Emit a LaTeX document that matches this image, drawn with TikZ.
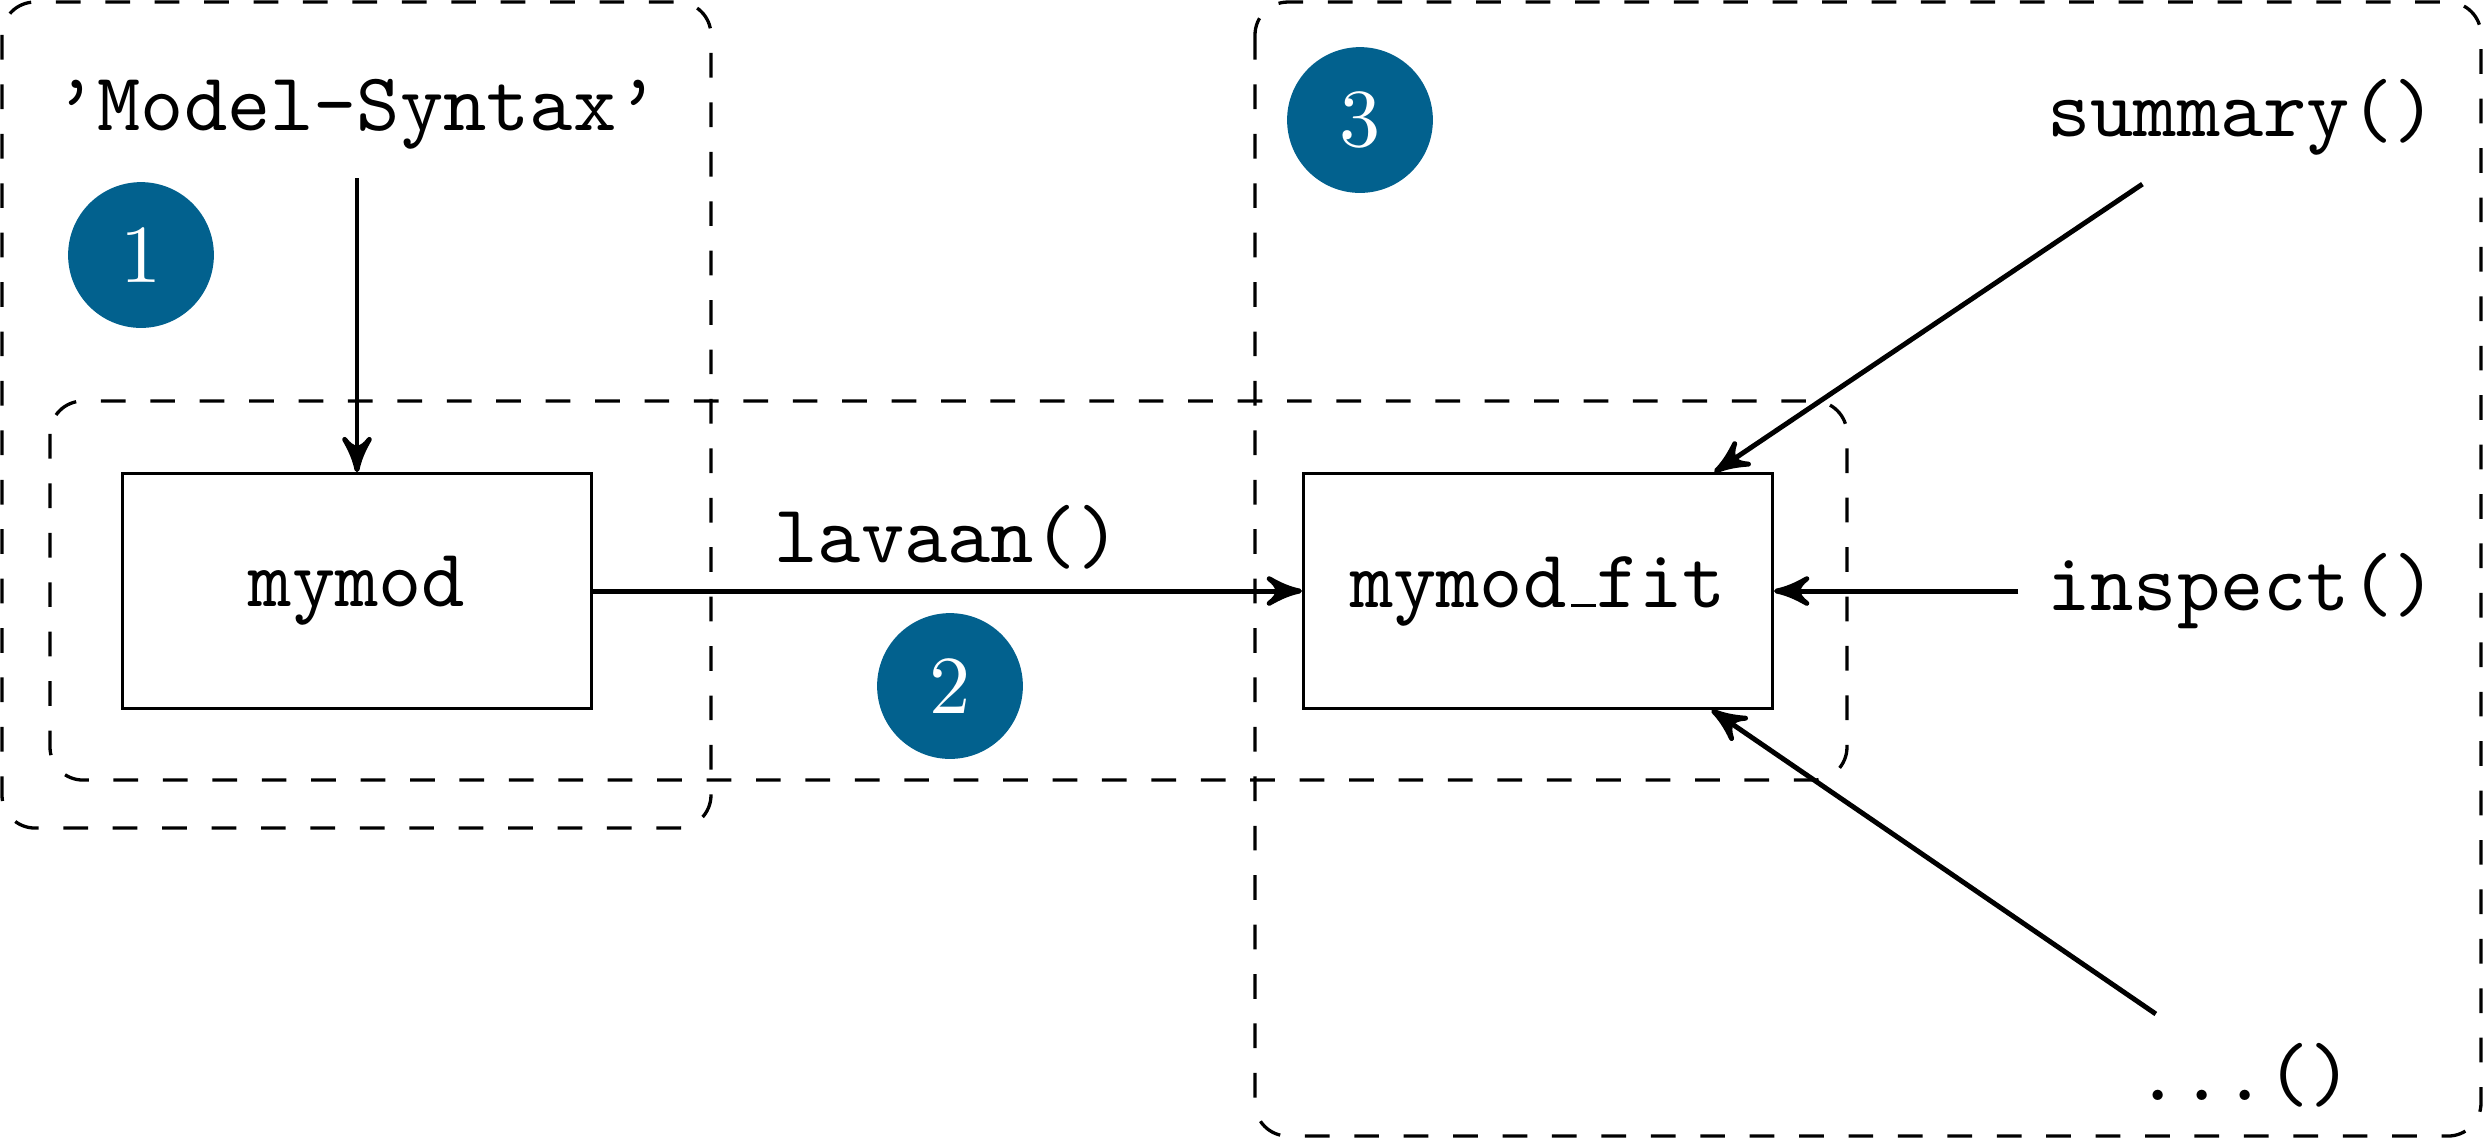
\documentclass[tikz,border=0pt]{standalone}
\usetikzlibrary{arrows}
\definecolor{numblue}{RGB}{2,97,142}
\newcommand{\rulescore}{\leavevmode\kern.06em\vbox{\hrule width .3em}}
\begin{document}
\begin{tikzpicture}[x=0.1214pt,y=-0.1214pt,
  group/.style={draw,dashed,rounded corners=4pt,line width=0.4pt},
  obj/.style={draw,line width=0.4pt,minimum width=2cm,minimum height=1cm,font=\ttfamily},
  fn/.style={font=\ttfamily},
  num/.style={circle,fill=numblue,text=white,minimum size=17.7pt,inner sep=0pt},
  conn/.style={line width=0.6pt,-stealth'}]
\useasboundingbox (0,0) rectangle (2483,1138);
% groups
\draw[group] (2,2) rectangle (711,828);
\draw[group] (50,401) rectangle (1847,780);
\draw[group] (1255,2) rectangle (2481,1136);
% nodes
\node[fn] (syntax) at (357,114) {’Model-Syntax’};
\node[obj] (mymod) at (357,591) {mymod};
\node[obj] (fit) at (1538,591) {mymod\rulescore fit};
\node[fn] (summary) at (2242,117) {summary()};
\node[fn] (inspect) at (2242,591) {inspect()};
\node[fn] (dots) at (2245,1075) {...()};
\node[num] (n1) at (141,255) {1};
\node[num] (n2) at (950,686) {2};
\node[num] (n3) at (1360,120) {3};
% connectors
\draw[conn] (syntax) -- (mymod);
\draw[conn] (mymod) -- node[fn,above,yshift=-1pt] (lav) {lavaan()} (fit);
\draw[conn] (summary) -- (fit);
\draw[conn] (inspect) -- (fit);
\draw[conn] (dots) -- (fit);
\end{tikzpicture}
\end{document}
